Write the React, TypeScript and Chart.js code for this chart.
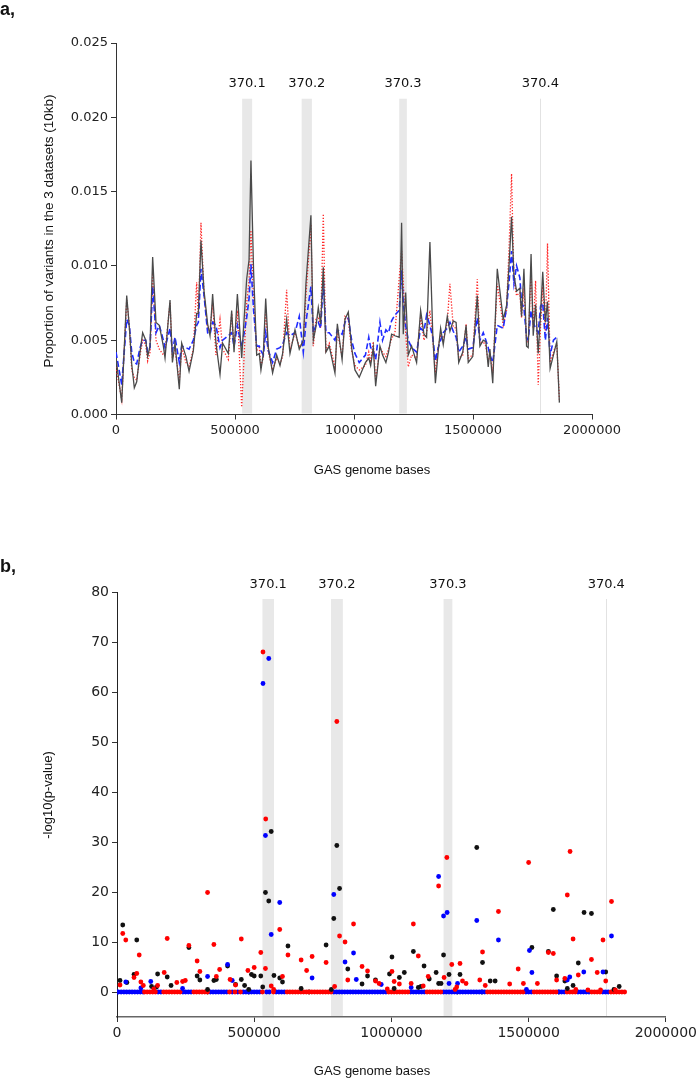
import React, { useEffect, useRef } from "react";
import { Chart, registerables } from "chart.js";

Chart.register(...registerables);

const SANS = '"Liberation Sans", Arial, Helvetica, sans-serif';
const DJV = '"DejaVu Sans", sans-serif';

// ---------- shared axis / region data ----------
const xTickValues = [0, 500000, 1000000, 1500000, 2000000];
const aYTickValues = [0, 0.005, 0.01, 0.015, 0.02, 0.025];
const bYTickValues = [0, 10, 20, 30, 40, 50, 60, 70, 80];

const regionLabels = ["370.1", "370.2", "370.3", "370.4"];
const regionStart = [530000, 780000, 1190000, 1783000];
const regionEnd = [572000, 823000, 1222000, 1783000];

// ---------- panel a: proportion of variants per 10kb window ----------
const windowKb = [
  0, 24, 45, 56, 66, 77, 87, 101, 112, 125,
  133, 143, 154, 168, 182, 199, 206, 227, 237, 248,
  266, 276, 294, 307, 325, 339, 346, 357, 370, 385,
  395, 406, 420, 437, 448, 472, 486, 496, 510, 528,
  549, 559, 567, 578, 591, 602, 609, 619, 629, 640,
  658, 675, 689, 700, 717, 731, 752, 770, 787, 798,
  819, 829, 840, 850, 860, 871, 882, 896, 920, 930,
  950, 962, 976, 990, 1004, 1022, 1048, 1062, 1070, 1081,
  1091, 1109, 1120, 1134, 1145, 1158, 1172, 1190, 1200, 1207,
  1217, 1228, 1242, 1263, 1280, 1294, 1305, 1319, 1331, 1342,
  1354, 1364, 1375, 1392, 1403, 1417, 1429, 1440, 1457, 1471,
  1480, 1499, 1518, 1529, 1543, 1554, 1564, 1571, 1583, 1602,
  1627, 1641, 1652, 1662, 1672, 1683, 1697, 1704, 1714, 1725,
  1732, 1744, 1753, 1763, 1774, 1784, 1793, 1804, 1813, 1824,
  1838, 1852, 1863,
];

const propAll = [
  0.0038, 0.0008, 0.008, 0.0059, 0.0034, 0.0018, 0.0022, 0.0042, 0.0055, 0.005,
  0.0039, 0.0046, 0.0106, 0.0062, 0.006, 0.0046, 0.0038, 0.0077, 0.0035, 0.0048,
  0.0017, 0.0048, 0.0039, 0.0029, 0.0043, 0.0068, 0.0068, 0.0117, 0.0083, 0.0061,
  0.0053, 0.0081, 0.0048, 0.0027, 0.0048, 0.0041, 0.007, 0.0042, 0.0081, 0.0038,
  0.0091, 0.0104, 0.0171, 0.0097, 0.004, 0.0041, 0.003, 0.0041, 0.0078, 0.0045,
  0.0028, 0.004, 0.0033, 0.0041, 0.0064, 0.0041, 0.0057, 0.0044, 0.005, 0.0088,
  0.0134, 0.005, 0.0059, 0.0072, 0.0061, 0.0099, 0.0042, 0.0046, 0.0028, 0.0061,
  0.0037, 0.0064, 0.0069, 0.0045, 0.003, 0.0025, 0.0035, 0.0038, 0.0033, 0.0045,
  0.0019, 0.0046, 0.004, 0.0035, 0.0042, 0.0054, 0.0053, 0.0052, 0.0129, 0.0054,
  0.0082, 0.004, 0.0046, 0.0035, 0.007, 0.0054, 0.0052, 0.0116, 0.0054, 0.0021,
  0.0043, 0.0058, 0.0047, 0.0066, 0.0056, 0.0063, 0.0062, 0.0035, 0.0042, 0.006,
  0.0035, 0.0039, 0.008, 0.0046, 0.005, 0.0049, 0.0032, 0.0044, 0.0021, 0.0098,
  0.0064, 0.0073, 0.0102, 0.0133, 0.0094, 0.0083, 0.0085, 0.0066, 0.0098, 0.0046,
  0.0045, 0.0108, 0.0053, 0.0074, 0.0041, 0.0068, 0.0096, 0.0062, 0.0076, 0.0031,
  0.004, 0.0049, 0.0008,
];

const propRed = [
  0.0032, 0.001, 0.0077, 0.006, 0.003, 0.0025, 0.0023, 0.004, 0.005, 0.0047,
  0.0036, 0.0042, 0.0095, 0.005, 0.0044, 0.004, 0.0042, 0.0075, 0.0038, 0.0044,
  0.0022, 0.0045, 0.0035, 0.0032, 0.0044, 0.0089, 0.0065, 0.0129, 0.008, 0.0058,
  0.0056, 0.0075, 0.004, 0.0064, 0.0044, 0.0037, 0.0068, 0.0046, 0.007, 0.0005,
  0.0075, 0.009, 0.0124, 0.0076, 0.0043, 0.0045, 0.0033, 0.0038, 0.007, 0.0042,
  0.003, 0.0038, 0.0034, 0.0039, 0.0084, 0.0043, 0.0055, 0.0046, 0.0048, 0.008,
  0.0128, 0.0046, 0.0064, 0.0066, 0.0058, 0.0135, 0.0043, 0.0048, 0.0032, 0.0056,
  0.0039, 0.0066, 0.0064, 0.0043, 0.0033, 0.003, 0.0033, 0.0042, 0.0035, 0.0049,
  0.0023, 0.0045, 0.0042, 0.0039, 0.0044, 0.0051, 0.0055, 0.0092, 0.011, 0.0088,
  0.0055, 0.0032, 0.004, 0.0038, 0.0066, 0.005, 0.0055, 0.007, 0.005, 0.0028,
  0.0046, 0.0053, 0.005, 0.0062, 0.0088, 0.0059, 0.0058, 0.0038, 0.004, 0.0061,
  0.0038, 0.004, 0.0091, 0.0048, 0.0049, 0.0046, 0.0035, 0.0041, 0.0028, 0.0088,
  0.006, 0.007, 0.0115, 0.0162, 0.009, 0.008, 0.0082, 0.0065, 0.0085, 0.005,
  0.0048, 0.0096, 0.0058, 0.009, 0.002, 0.006, 0.0086, 0.0055, 0.0115, 0.0035,
  0.0042, 0.0048, 0.001,
];

const propBlue = [
  0.0042, 0.002, 0.0064, 0.006, 0.0042, 0.0035, 0.0034, 0.0045, 0.005, 0.005,
  0.0042, 0.0045, 0.0086, 0.0055, 0.006, 0.005, 0.0045, 0.0058, 0.0043, 0.0052,
  0.0035, 0.0046, 0.0045, 0.0044, 0.005, 0.006, 0.0062, 0.0098, 0.008, 0.0055,
  0.0054, 0.0062, 0.006, 0.0045, 0.005, 0.0053, 0.0055, 0.0046, 0.006, 0.0045,
  0.0065, 0.0078, 0.0101, 0.007, 0.0046, 0.0046, 0.0043, 0.004, 0.0055, 0.0043,
  0.0035, 0.0044, 0.0045, 0.0047, 0.0055, 0.0053, 0.0055, 0.0066, 0.0042, 0.0062,
  0.0086, 0.0055, 0.006, 0.0062, 0.0058, 0.009, 0.0055, 0.0055, 0.005, 0.0057,
  0.0054, 0.0062, 0.0065, 0.005, 0.0041, 0.0035, 0.004, 0.0052, 0.0045, 0.0043,
  0.0037, 0.0062, 0.005, 0.0057, 0.0055, 0.0063, 0.0067, 0.007, 0.0097, 0.0075,
  0.006, 0.005, 0.0045, 0.0042, 0.0058, 0.0056, 0.0067, 0.006, 0.0052, 0.0036,
  0.0045, 0.005, 0.0055, 0.0058, 0.0062, 0.0056, 0.0052, 0.0042, 0.0046, 0.0052,
  0.0044, 0.0045, 0.0065, 0.005, 0.0055, 0.005, 0.0045, 0.004, 0.0035, 0.006,
  0.0058, 0.0072, 0.009, 0.011, 0.0088, 0.01, 0.0092, 0.0075, 0.0072, 0.0052,
  0.005, 0.007, 0.0062, 0.0058, 0.0055, 0.0073, 0.0075, 0.005, 0.0065, 0.004,
  0.005, 0.0052, null,
];

// ---------- panel b: -log10(p-value) ----------
const blackKb = [11, 21, 36, 62, 72, 126, 144, 148, 183, 197, 262, 292, 302, 330, 353, 362, 403, 432, 453, 465, 480, 490, 500, 524, 531, 541, 553, 562, 572, 593, 603, 623, 671, 762, 781, 790, 801, 811, 841, 893, 913, 942, 993, 1002, 1010, 1029, 1047, 1080, 1098, 1108, 1119, 1138, 1163, 1172, 1181, 1190, 1210, 1250, 1311, 1332, 1360, 1378, 1512, 1572, 1590, 1602, 1632, 1641, 1662, 1681, 1702, 1729, 1781, 1811, 1830];
const blackLogP = [2.3, 13.4, 1.9, 3.5, 10.4, 1.1, 1.0, 3.6, 3.0, 1.3, 8.9, 3.2, 2.4, 0.5, 2.3, 2.5, 5.2, 1.5, 2.5, 1.3, 0.5, 3.5, 3.2, 3.2, 1.0, 19.9, 18.2, 32.1, 3.3, 2.8, 2.0, 9.2, 0.7, 9.4, 0.5, 14.7, 29.3, 20.7, 4.6, 1.6, 3.2, 2.4, 3.6, 7.0, 0.7, 2.9, 3.9, 8.1, 0.9, 1.1, 5.2, 2.6, 3.9, 1.7, 1.7, 7.4, 3.5, 3.5, 28.9, 5.9, 2.2, 2.2, 8.9, 8.1, 16.5, 3.2, 2.2, 0.7, 1.3, 5.8, 15.9, 15.7, 4.0, 0.5, 1.1];

const redKb = [11, 21, 32, 62, 72, 81, 87, 96, 134, 148, 172, 183, 218, 239, 249, 262, 292, 302, 330, 353, 362, 374, 412, 432, 453, 477, 500, 524, 532, 541, 542, 562, 571, 593, 603, 623, 671, 691, 711, 762, 793, 801, 811, 831, 841, 862, 893, 913, 942, 955, 985, 1002, 1010, 1029, 1072, 1080, 1098, 1116, 1134, 1172, 1192, 1202, 1220, 1232, 1238, 1250, 1259, 1272, 1322, 1332, 1342, 1390, 1431, 1462, 1481, 1500, 1532, 1572, 1590, 1602, 1632, 1641, 1651, 1662, 1672, 1681, 1716, 1729, 1750, 1762, 1771, 1781, 1802, 1816];
const redLogP = [1.4, 11.7, 10.4, 2.9, 3.7, 7.4, 2.0, 1.3, 0.6, 1.3, 3.9, 10.7, 1.9, 2.1, 2.3, 9.3, 6.2, 4.1, 19.9, 9.5, 3.1, 4.5, 2.5, 1.4, 10.6, 4.3, 4.9, 7.9, 68.0, 4.7, 34.6, 1.2, 0.5, 12.5, 3.1, 7.4, 6.4, 4.3, 7.1, 5.9, 1.1, 54.1, 11.2, 10.0, 2.4, 13.6, 5.1, 4.2, 2.2, 1.7, 0.6, 4.1, 2.1, 1.6, 1.7, 13.6, 7.2, 1.2, 3.1, 21.2, 2.9, 26.9, 5.5, 0.5, 1.0, 5.7, 2.2, 1.7, 2.4, 8.0, 1.3, 16.1, 1.6, 4.6, 1.7, 25.9, 1.7, 7.9, 7.7, 2.4, 2.7, 19.4, 28.1, 10.6, 0.5, 3.4, 0.4, 6.5, 3.9, 0.4, 10.4, 2.2, 18.1, 0.4];

const blueKb = [32, 87, 123, 239, 330, 403, 420, 532, 541, 553, 562, 593, 711, 790, 831, 862, 872, 963, 1072, 1172, 1190, 1203, 1210, 1241, 1311, 1390, 1492, 1503, 1512, 1641, 1650, 1701, 1771, 1802];
const blueLogP = [2.0, 0.8, 2.1, 0.7, 3.1, 5.5, 2.3, 61.7, 31.3, 66.7, 11.5, 17.9, 2.8, 19.5, 6.0, 7.8, 2.5, 1.5, 0.9, 23.1, 15.2, 15.9, 1.7, 1.7, 14.3, 10.4, 0.5, 8.3, 3.9, 2.4, 3.0, 4.0, 4.0, 11.2];

// windows with -log10(p) = 0
const blueZeroKb = [0, 5, 15, 25, 35, 45, 55, 65, 75, 85, 95, 150, 160, 240, 250, 260, 270, 340, 350, 360, 370, 380, 390, 400, 420, 440, 460, 470, 480, 490, 500, 510, 520, 545, 555, 580, 590, 600, 610, 790, 800, 810, 820, 830, 840, 850, 860, 870, 880, 890, 900, 910, 920, 930, 940, 950, 960, 970, 980, 1070, 1080, 1090, 1100, 1110, 1120, 1190, 1200, 1210, 1220, 1230, 1240, 1250, 1260, 1270, 1280, 1290, 1300, 1310, 1320, 1330, 1340, 1490, 1500, 1510, 1610, 1620, 1630, 1680, 1690, 1700, 1710, 1720, 1770, 1780, 1790];
const redZeroKb = [100, 110, 120, 130, 140, 170, 180, 190, 200, 210, 220, 230, 280, 290, 300, 310, 320, 330, 410, 430, 450, 530, 570, 620, 630, 640, 650, 660, 670, 680, 690, 700, 710, 720, 730, 740, 750, 760, 770, 780, 990, 1000, 1010, 1020, 1030, 1040, 1050, 1060, 1130, 1140, 1150, 1160, 1170, 1180, 1350, 1360, 1370, 1380, 1390, 1400, 1410, 1420, 1430, 1440, 1450, 1460, 1470, 1480, 1520, 1530, 1540, 1550, 1560, 1570, 1580, 1590, 1600, 1640, 1650, 1660, 1670, 1730, 1740, 1750, 1760, 1800, 1810, 1820, 1830, 1840, 1850];
const blackZeroKb = [330, 480, 700, 1240, 1330, 1610];

// ---------- helpers ----------
type Txt = { text: string; x: number; y: number; font: string; rot?: boolean };

function overlay(bandTop: number, labelGap: number, labelFont: string, texts: Txt[]) {
  return {
    id: "overlay",
    beforeDatasetsDraw(chart: any) {
      const { ctx, chartArea, scales } = chart;
      const xs = scales.x;
      const ys = scales.y;
      const top = ys.getPixelForValue(bandTop);
      ctx.save();
      for (let i = 0; i < regionLabels.length; i++) {
        const x0 = xs.getPixelForValue(regionStart[i]);
        const x1 = xs.getPixelForValue(regionEnd[i]);
        if (x1 - x0 < 1.5) {
          ctx.fillStyle = "#e2e2e2";
          ctx.fillRect(Math.round(x0), top, 1, chartArea.bottom - top - 1);
        } else {
          ctx.fillStyle = "#e8e8e8";
          ctx.fillRect(x0, top, x1 - x0, chartArea.bottom - top - 1);
        }
        ctx.fillStyle = "#111";
        ctx.font = labelFont;
        ctx.textAlign = "center";
        ctx.textBaseline = "middle";
        ctx.fillText(regionLabels[i], (x0 + x1) / 2, top - labelGap);
      }
      ctx.restore();
    },
    afterDraw(chart: any) {
      const { ctx } = chart;
      ctx.save();
      ctx.fillStyle = "#111";
      for (const t of texts) {
        ctx.save();
        ctx.font = t.font;
        ctx.translate(t.x, t.y);
        if (t.rot) {
          ctx.rotate(-Math.PI / 2);
          ctx.textAlign = "center";
          ctx.textBaseline = "middle";
        } else if (t.text.endsWith(",")) {
          ctx.textAlign = "left";
          ctx.textBaseline = "alphabetic";
        } else {
          ctx.textAlign = "center";
          ctx.textBaseline = "middle";
        }
        ctx.fillText(t.text, 0, 0);
        ctx.restore();
      }
      ctx.restore();
    },
  };
}

function axisCommon(fontSize: number, color: string) {
  return {
    grid: { display: true, drawOnChartArea: false, drawTicks: true, tickLength: 5, color: "#333", lineWidth: 1 },
    border: { display: true, color, width: 1 },
    ticks: { autoSkip: false, maxRotation: 0, minRotation: 0, padding: 3, color: "#222", font: { family: DJV, size: fontSize } },
  };
}

export default function App() {
  const refA = useRef<HTMLCanvasElement>(null);
  const refB = useRef<HTMLCanvasElement>(null);

  useEffect(() => {
    const ax = axisCommon(13, "#333");
    const ay = axisCommon(13, "#333");
    const chartA = new Chart(refA.current as HTMLCanvasElement, {
      type: "line",
      data: {
        datasets: [
          {
            label: "all",
            data: windowKb.map((k, i) => ({ x: k * 1000, y: propAll[i] })),
            borderColor: "#4a4a4a",
            borderWidth: 1.3,
            pointRadius: 0,
            tension: 0,
            fill: false,
          },
          {
            label: "dataset 3",
            data: windowKb.map((k, i) => ({ x: k * 1000, y: propBlue[i] })),
            borderColor: "#1f2bff",
            borderWidth: 1.6,
            borderDash: [6, 3],
            pointRadius: 0,
            tension: 0,
            fill: false,
          },
          {
            label: "dataset 2",
            data: windowKb.map((k, i) => ({ x: k * 1000, y: propRed[i] })),
            borderColor: "#ff2a2a",
            borderWidth: 1.3,
            borderDash: [1.3, 1.7],
            pointRadius: 0,
            tension: 0,
            fill: false,
          },
        ],
      },
      options: {
        responsive: false,
        devicePixelRatio: 1,
        animation: false,
        events: [],
        layout: { padding: { left: 0, right: 108, top: 43, bottom: 0 } },
        plugins: { legend: { display: false }, tooltip: { enabled: false }, title: { display: false } },
        scales: {
          x: {
            type: "linear",
            min: 0,
            max: 2000000,
            afterBuildTicks: (s: any) => {
              s.ticks = xTickValues.map((v) => ({ value: v }));
            },
            afterFit: (s: any) => {
              s.height = 85.5;
            },
            ...ax,
            ticks: { ...ax.ticks, callback: (v: any) => String(v) },
          },
          y: {
            type: "linear",
            min: 0,
            max: 0.025,
            afterBuildTicks: (s: any) => {
              s.ticks = aYTickValues.map((v) => ({ value: v }));
            },
            afterFit: (s: any) => {
              s.width = 116;
            },
            ...ay,
            ticks: { ...ay.ticks, callback: (v: any) => Number(v).toFixed(3) },
          },
        },
      } as any,
      plugins: [
        overlay(0.02125, 15.5, `13px ${DJV}`, [
          { text: "a,", x: 0, y: 15, font: `bold 18px ${SANS}` },
          { text: "GAS genome bases", x: 372, y: 470, font: `13px ${SANS}` },
          { text: "Proportion of variants in the 3 datasets (10kb)", x: 49, y: 231, font: `13.5px ${SANS}`, rot: true },
        ]) as any,
      ],
    });

    const bx = axisCommon(14, "#666");
    const by = axisCommon(14, "#222");
    const pts = (ks: number[], vs: number[] | null) => ks.map((k, i) => ({ x: k * 1000, y: vs ? vs[i] : 0 }));
    const sc = (label: string, data: any[], color: string) => ({
      label,
      data,
      backgroundColor: color,
      borderColor: color,
      borderWidth: 0,
      pointRadius: 2.4,
      pointBorderWidth: 0,
    });
    const chartB = new Chart(refB.current as HTMLCanvasElement, {
      type: "scatter",
      data: {
        datasets: [
          sc("red", pts(redKb, redLogP), "#ff0000"),
          sc("blue", pts(blueKb, blueLogP), "#0000ff"),
          sc("black", pts(blackKb, blackLogP), "#111111"),
          sc("red zero", pts(redZeroKb, null), "#ff0000"),
          sc("blue zero", pts(blueZeroKb, null), "#0000ff"),
          sc("black zero", pts(blackZeroKb, null), "#111111"),
        ],
      },
      options: {
        responsive: false,
        devicePixelRatio: 1,
        animation: false,
        events: [],
        layout: { padding: { left: 0, right: 33, top: 52, bottom: 2 } },
        plugins: { legend: { display: false }, tooltip: { enabled: false }, title: { display: false } },
        scales: {
          x: {
            type: "linear",
            min: 0,
            max: 2000000,
            afterBuildTicks: (s: any) => {
              s.ticks = xTickValues.map((v) => ({ value: v }));
            },
            afterFit: (s: any) => {
              s.height = 62;
            },
            ...bx,
            border: { display: true, color: "#666", width: 1.5 },
            ticks: { ...bx.ticks, callback: (v: any) => String(v) },
          },
          y: {
            type: "linear",
            min: -5,
            max: 80,
            afterBuildTicks: (s: any) => {
              s.ticks = bYTickValues.map((v) => ({ value: v }));
            },
            afterFit: (s: any) => {
              s.width = 117;
            },
            ...by,
            ticks: { ...by.ticks, callback: (v: any) => String(v) },
          },
        },
      } as any,
      plugins: [
        overlay(78.6, 14, `13px ${DJV}`, [
          { text: "b,", x: 0, y: 32, font: `bold 18px ${SANS}` },
          { text: "GAS genome bases", x: 372, y: 531, font: `13px ${SANS}` },
          { text: "-log10(p-value)", x: 48, y: 255, font: `13px ${SANS}`, rot: true },
        ]) as any,
      ],
    });

    return () => {
      chartA.destroy();
      chartB.destroy();
    };
  }, []);

  return (
    <div style={{ position: "absolute", left: 0, top: 0, width: 700, height: 1081, background: "#ffffff" }}>
      <canvas ref={refA} width={700} height={500} style={{ position: "absolute", left: 0, top: 0, display: "block" }} />
      <canvas ref={refB} width={700} height={541} style={{ position: "absolute", left: 0, top: 540, display: "block" }} />
    </div>
  );
}
